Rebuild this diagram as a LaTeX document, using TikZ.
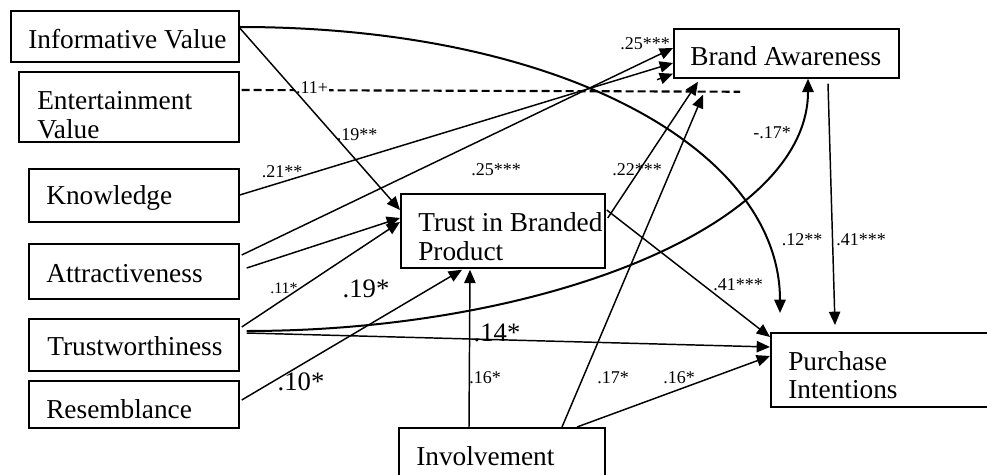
\documentclass[tikz,border=0pt]{standalone}
\usepackage{fontspec}
\setmainfont{Liberation Serif}
\usetikzlibrary{arrows.meta,calc}
\begin{document}
\begin{tikzpicture}[x=0.75pt,y=-0.75pt,
  box/.style={draw,line width=1.3pt,inner sep=0pt,anchor=north west},
  lbl/.style={anchor=base west,inner sep=0pt,font=\fontsize{20.5}{24}\selectfont},
  coef/.style={inner sep=0pt,font=\fontsize{13.5}{16}\selectfont},
  smallcoef/.style={inner sep=0pt,font=\fontsize{12}{14}\selectfont},
  bigcoef/.style={inner sep=0pt,font=\fontsize{20}{24}\selectfont},
  conn/.style={line width=1.1pt,-{Triangle[length=10pt,width=8.5pt]}},
  curv/.style={line width=1.5pt,-{Triangle[length=10pt,width=8.5pt]}},
  dashline/.style={line width=1.6pt,dash pattern=on 6pt off 3pt}
]
\useasboundingbox (0,0) rectangle (987,474);
\clip (0,0) rectangle (987,474);

% boxes
\node[box,minimum width=171pt,minimum height=38.25pt] (iv) at (10,10) {};
\node[box,minimum width=165pt,minimum height=52.5pt] (ev) at (18,71) {};
\node[box,minimum width=157.5pt,minimum height=39.75pt] (kn) at (28,168) {};
\node[box,minimum width=157.5pt,minimum height=41.25pt] (at) at (28,243) {};
\node[box,minimum width=157.5pt,minimum height=39pt] (tw) at (28,318) {};
\node[box,minimum width=157.5pt,minimum height=35.25pt] (re) at (28,380) {};
\node[box,minimum width=153pt,minimum height=55.5pt] (tb) at (400,193) {};
\node[box,minimum width=168.75pt,minimum height=36.75pt] (ba) at (673,28) {};
\node[box,minimum width=172.5pt,minimum height=55.5pt] (pi) at (770,332) {};
\node[box,minimum width=154.5pt,minimum height=45pt] (inv) at (398,427) {};

% box texts
\node[lbl] (tiv) at (28,49) {Informative Value};
\node[lbl] (tev1) at (37,110) {Entertainment};
\node[lbl] (tev2) at (37,138) {Value};
\node[lbl] (tkn) at (46,204) {Knowledge};
\node[lbl] (tat) at (46,282) {Attractiveness};
\node[lbl] (ttw) at (47,355) {Trustworthiness};
\node[lbl] (tre) at (46,418) {Resemblance};
\node[lbl] (ttb1) at (418,231) {Trust in Branded};
\node[lbl] (ttb2) at (418,260) {Product};
\node[lbl] (tba) at (690,66) {Brand Awareness};
\node[lbl] (tpi1) at (788,370) {Purchase};
\node[lbl] (tpi2) at (788,398) {Intentions};
\node[lbl] (tinv) at (416,465) {Involvement};

% dashed entertainment line and its label
\coordinate (evend) at ($(ba.south west)+(67,13)$);
\draw[dashline] ($(ev.north east)+(2,19)$) -- (evend);
\node[coef,fill=white,inner sep=1pt] (c11) at (312,88) {.11+};

% connectors
\draw[conn] ($(iv.north east)+(0,18)$) -- ($(tb.north west)+(0,17)$);
\draw[curv] ($(iv.north east)+(0,17)$) .. controls +(322,0) and +(0,-163) .. ($(pi.north west)+(10,-19)$);
\draw[conn] ($(kn.north east)+(0,27)$) -- ($(ba.north west)+(0,35)$);
\draw[conn] ($(at.north east)+(2,12)$) -- ($(ba.north west)+(0,20)$);
\coordinate (stub) at ($(ba.south west)+(-16,1)$);
\draw[conn] (stub) -- ($(ba.south west)+(0,-5)$);
\draw[conn] ($(at.north east)+(7,25)$) -- ($(tb.north west)+(0,25)$);
\draw[conn] ($(tw.north east)+(2,9)$) -- ($(tb.north west)+(0,29)$);
\draw[curv] ($(tw.north east)+(7,13)$) .. controls +(295,0) and +(0,148) .. ($(ba.south west)+(135,0)$);
\draw[conn] ($(tw.north east)+(7,15)$) -- ($(pi.north west)+(0,15)$);
\draw[conn] ($(re.north east)+(2,20)$) -- ($(tb.south west)+(62,1)$);
\draw[conn] ($(inv.north west)+(71,0)$) -- ($(tb.south west)+(70,1)$);
\draw[conn] ($(inv.north west)+(164,0)$) -- ($(ba.south west)+(30,16)$);
\draw[conn] ($(inv.north west)+(179,0)$) -- ($(pi.north west)+(0,24)$);
\draw[conn] ($(tb.north east)+(2,25)$) -- ($(ba.south west)+(25,3)$);
\draw[conn] ($(tb.north east)+(1,17)$) -- ($(pi.north west)+(0,5)$);
\draw[conn] ($(ba.south west)+(155,5)$) -- ($(pi.north west)+(65,-7)$);

% coefficients
\node[coef] (c19) at (357,135) {.19**};
\node[coef] (c21) at (282,172) {.21**};
\node[coef] (c25a) at (645,44) {.25***};
\node[coef] (c25b) at (496,170) {.25***};
\node[coef] (c22) at (637,170) {.22***};
\node[coef] (c17a) at (772,133) {-.17*};
\node[coef] (c12) at (802,240) {.12**};
\node[coef] (c41a) at (861,240) {.41***};
\node[coef] (c41b) at (738,285) {.41***};
\node[smallcoef] (c11b) at (284,288) {.11*};
\node[bigcoef] (c19b) at (366,289) {.19*};
\node[bigcoef] (c10) at (301,382) {.10*};
\node[bigcoef] (c14) at (497,333) {.14*};
\node[coef] (c16a) at (485,378) {.16*};
\node[coef] (c17b) at (613,378) {.17*};
\node[coef] (c16b) at (679,378) {.16*};
\end{tikzpicture}
\end{document}
